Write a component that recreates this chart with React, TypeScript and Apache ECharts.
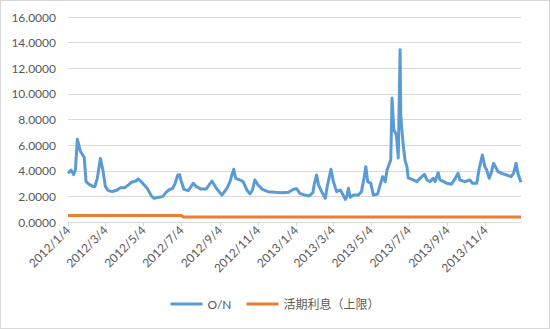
import React, { useEffect, useRef } from "react";
import * as echarts from "echarts";

const startDate = "2012/1/4";
const endDate = "2013/12/31";

const onDates = [
  "2012/1/4", "2012/1/9", "2012/1/13", "2012/1/16", "2012/1/19", "2012/1/24", "2012/1/30",
  "2012/2/2", "2012/2/6", "2012/2/12", "2012/2/16", "2012/2/20", "2012/2/25", "2012/2/29",
  "2012/3/4", "2012/3/9", "2012/3/15", "2012/3/23", "2012/3/28", "2012/4/4", "2012/4/10",
  "2012/4/15", "2012/4/22", "2012/4/26", "2012/5/2", "2012/5/10", "2012/5/17", "2012/5/21",
  "2012/5/29", "2012/6/4", "2012/6/9", "2012/6/14", "2012/6/20", "2012/6/24", "2012/6/28",
  "2012/7/1", "2012/7/3", "2012/7/8", "2012/7/15", "2012/7/23", "2012/7/28", "2012/8/4",
  "2012/8/13", "2012/8/22", "2012/8/29", "2012/9/7", "2012/9/15", "2012/9/20", "2012/9/23",
  "2012/9/26", "2012/9/29", "2012/10/6", "2012/10/11", "2012/10/17", "2012/10/22", "2012/10/26",
  "2012/10/30", "2012/11/4", "2012/11/11", "2012/11/20", "2012/12/1", "2012/12/12", "2012/12/23",
  "2012/12/31", "2013/1/5", "2013/1/10", "2013/1/18", "2013/1/25", "2013/1/31", "2013/2/2",
  "2013/2/6", "2013/2/9", "2013/2/14", "2013/2/20", "2013/2/23", "2013/3/1", "2013/3/5",
  "2013/3/10", "2013/3/16", "2013/3/19", "2013/3/24", "2013/3/26", "2013/3/29", "2013/4/1",
  "2013/4/6", "2013/4/14", "2013/4/19", "2013/4/23", "2013/4/26", "2013/4/29", "2013/5/4",
  "2013/5/8", "2013/5/15", "2013/5/19", "2013/5/23", "2013/5/27", "2013/5/30", "2013/6/3",
  "2013/6/5", "2013/6/7", "2013/6/10", "2013/6/14", "2013/6/17", "2013/6/20", "2013/6/21",
  "2013/6/24", "2013/6/26", "2013/6/28", "2013/7/1", "2013/7/3", "2013/7/11", "2013/7/17",
  "2013/7/22", "2013/7/29", "2013/8/2", "2013/8/7", "2013/8/12", "2013/8/15", "2013/8/20",
  "2013/8/23", "2013/8/29", "2013/9/3", "2013/9/10", "2013/9/15", "2013/9/21", "2013/9/24",
  "2013/10/2", "2013/10/10", "2013/10/14", "2013/10/21", "2013/10/25", "2013/10/30", "2013/11/3",
  "2013/11/6", "2013/11/10", "2013/11/13", "2013/11/17", "2013/11/20", "2013/11/24", "2013/11/30",
  "2013/12/8", "2013/12/15", "2013/12/19", "2013/12/23", "2013/12/26", "2013/12/30", "2013/12/31",
];

const onValues = [
  3.8, 4.05, 3.7, 4.1, 6.45, 5.5, 5.05,
  3.15, 2.97, 2.8, 2.75, 3.4, 4.95, 4.05,
  2.76, 2.45, 2.37, 2.5, 2.68, 2.68, 2.9,
  3.1, 3.2, 3.36, 3.07, 2.63, 2.03, 1.85,
  1.93, 1.98, 2.29, 2.5, 2.63, 3.02, 3.65,
  3.7, 3.3, 2.55, 2.45, 3.02, 2.76, 2.58,
  2.58, 3.2, 2.63, 2.1, 2.63, 3.15, 3.67,
  4.12, 3.41, 3.28, 3.15, 2.5, 2.19, 2.5,
  3.28, 2.89, 2.55, 2.37, 2.32, 2.29, 2.32,
  2.55, 2.6, 2.24, 2.1, 2.03, 2.29, 2.89,
  3.67, 2.89, 2.37, 1.85, 2.76, 4.12, 3.15,
  2.37, 2.5, 2.24, 1.77, 1.9, 2.63, 1.93,
  2.1, 2.1, 2.37, 3.41, 4.32, 3.15, 3.02,
  2.1, 2.19, 2.89, 3.54, 3.15, 4.06, 4.58,
  4.84, 9.66, 7.2, 6.8, 5.0, 13.44, 8.3,
  6.5, 5.6, 4.8, 4.3, 3.45, 3.28, 3.15,
  3.41, 3.72, 3.28, 3.15, 3.41, 3.15, 3.85,
  3.28, 3.15, 3.02, 2.94, 3.28, 3.8, 3.28,
  3.15, 3.28, 3.02, 3.02, 4.19, 5.23, 4.32,
  4.06, 3.41, 3.8, 4.58, 4.32, 3.93, 3.8,
  3.67, 3.54, 3.8, 4.58, 3.8, 3.22, 3.1,
];

const depositDates = ["2012/1/4", "2012/7/5", "2012/7/7", "2013/12/31"];
const depositValues = [0.5, 0.5, 0.385, 0.385];

const seriesNames = ["O/N", "活期利息（上限）"];
const seriesColors = ["#5B9BD5", "#ED7D31"];
const yTicks = { min: 0, max: 16, interval: 2 };

function buildCategories(): string[] {
  const [sy, sm, sd] = startDate.split("/").map(Number);
  const [ey, em, ed] = endDate.split("/").map(Number);
  const out: string[] = [];
  let t = Date.UTC(sy, sm - 1, sd);
  const end = Date.UTC(ey, em - 1, ed);
  while (t <= end) {
    const d = new Date(t);
    out.push(`${d.getUTCFullYear()}/${d.getUTCMonth() + 1}/${d.getUTCDate()}`);
    t += 86400000;
  }
  return out;
}

const isLabelDate = (_i: number, v: string) => {
  const p = v.split("/").map(Number);
  return p[2] === 4 && p[1] % 2 === 1;
};

const FONT = 'Lato, "Noto Sans CJK SC", sans-serif';

export default function App() {
  const ref = useRef<HTMLDivElement>(null);
  useEffect(() => {
    document.body.style.margin = "0";
    const chart = echarts.init(ref.current!, null, { renderer: "svg" });
    const categories = buildCategories();
    chart.setOption({
      animation: false,
      backgroundColor: "#ffffff",
      textStyle: { fontFamily: FONT },
      grid: { left: 67, right: 28, top: 16, bottom: 106 },
      legend: {
        bottom: 13,
        left: "center",
        itemWidth: 32,
        itemHeight: 3,
        itemGap: 15,
        icon: "rect",
        textStyle: { color: "#595959", fontSize: 12, fontFamily: FONT },
        data: seriesNames,
      },
      xAxis: {
        type: "category",
        boundaryGap: false,
        data: categories,
        axisLine: { lineStyle: { color: "#d9d9d9", width: 1 } },
        axisTick: { show: true, interval: isLabelDate, length: 4, lineStyle: { color: "#d9d9d9" } },
        axisLabel: {
          interval: isLabelDate,
          rotate: 45,
          margin: 6,
          color: "#595959",
          fontSize: 12,
          fontFamily: FONT,
        },
        splitLine: { show: false },
      },
      yAxis: {
        type: "value",
        min: yTicks.min,
        max: yTicks.max,
        interval: yTicks.interval,
        axisLine: { show: false },
        axisTick: { show: false },
        axisLabel: {
          color: "#595959",
          fontSize: 12,
          margin: 12,
          fontFamily: FONT,
          formatter: (v: number) => v.toFixed(4),
        },
        splitLine: { lineStyle: { color: "#d9d9d9", width: 1 } },
      },
      series: [
        {
          name: seriesNames[0],
          type: "line",
          symbol: "none",
          color: seriesColors[0],
          lineStyle: { width: 3, color: seriesColors[0], join: "round" },
          data: onDates.map((d, i) => [d, onValues[i]]),
        },
        {
          name: seriesNames[1],
          type: "line",
          symbol: "none",
          color: seriesColors[1],
          lineStyle: { width: 3, color: seriesColors[1] },
          data: depositDates.map((d, i) => [d, depositValues[i]]),
        },
      ],
    });
    return () => chart.dispose();
  }, []);
  return (
    <div
      ref={ref}
      style={{
        position: "absolute",
        left: 0,
        top: 0,
        width: 550,
        height: 329,
        boxSizing: "border-box",
        border: "1px solid #d9d9d9",
        background: "#fff",
      }}
    />
  );
}
